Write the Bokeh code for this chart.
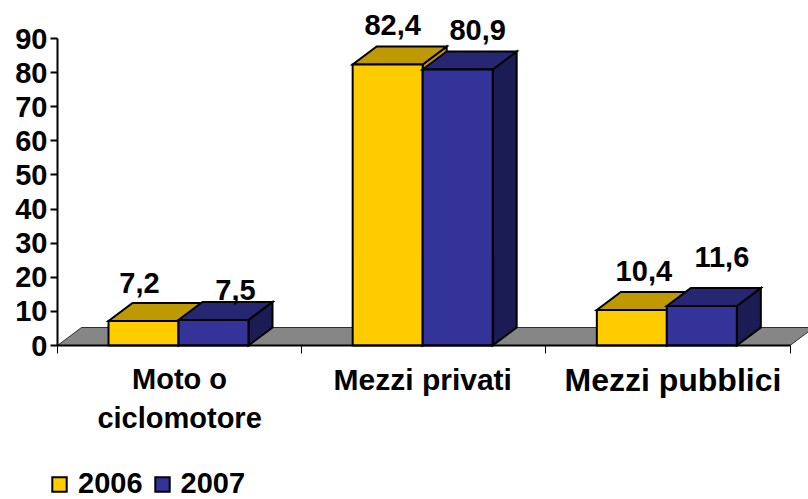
from bokeh.embed import file_html
from bokeh.resources import INLINE
from bokeh.plotting import figure
from bokeh.models import Range1d, LinearAxis, FixedTicker, Legend, LegendItem
from bokeh.core.properties import value

categories = ["Moto o\nciclomotore", "Mezzi privati", "Mezzi pubblici"]
series_names = ["2006", "2007"]
values_2006 = [7.2, 82.4, 10.4]
values_2007 = [7.5, 80.9, 11.6]
label_2006 = ["7,2", "82,4", "10,4"]
label_2007 = ["7,5", "80,9", "11,6"]
y_ticks = [0, 10, 20, 30, 40, 50, 60, 70, 80, 90]

FONT = "Liberation Sans"
FS = "29px"
W, H = 808, 499
X0_PX, Y0_PX = 57, 345          # origin inside the figure
UX, UY = 244.17, 3.411          # px per category / per value unit
DX, DY = 24 / UX, 18 / UY       # 3-D depth
BAR = 70 / UX
GAP = 51 / UX

p = figure(width=W, height=H, output_backend="svg", toolbar_location=None,
           x_range=Range1d(-X0_PX / UX, (W - X0_PX) / UX),
           y_range=Range1d(-(H - Y0_PX) / UY, Y0_PX / UY),
           min_border=0, outline_line_color=None, x_axis_type=None, y_axis_type=None)
p.grid.visible = False

# floor
p.patch([0, DX, 3 + DX, 3], [0, DY, DY, 0], fill_color="#868686", line_color="#303030", line_width=1)

def draw(vals, x_off, c_front, c_top, c_side):
    fx, fy, tx, ty, sx, sy = [], [], [], [], [], []
    for i, v in enumerate(vals):
        a = i + GAP + x_off
        b = a + BAR
        fx.append([a, b, b, a]); fy.append([0, 0, v, v])
        tx.append([a, b, b + DX, a + DX]); ty.append([v, v, v + DY, v + DY])
        sx.append([b, b + DX, b + DX, b]); sy.append([0, DY, v + DY, v])
    kw = dict(line_color="black", line_width=2, line_join="miter")
    p.patches(sx, sy, fill_color=c_side, **kw)
    p.patches(tx, ty, fill_color=c_top, **kw)
    return p.patches(fx, fy, fill_color=c_front, **kw)

r06 = draw(values_2006, 0, "#FFCC00", "#BF9900", "#BF9900")
r07 = draw(values_2007, BAR, "#333399", "#262673", "#1C1C55")

# axes
ya = LinearAxis(ticker=FixedTicker(ticks=y_ticks), fixed_location=0, bounds=(0, 90))
ya.major_label_text_font = FONT
ya.major_label_text_font_style = "bold"
ya.major_label_text_font_size = FS
ya.major_label_text_color = "black"
ya.axis_line_width = 2
ya.major_tick_line_width = 2
ya.major_tick_out = 7
ya.major_tick_in = 0
ya.minor_tick_line_color = None
ya.major_label_standoff = 3
p.add_layout(ya, "left")

xa = LinearAxis(ticker=FixedTicker(ticks=[0, 1, 2, 3]), fixed_location=0, bounds=(0, 3))
xa.major_label_text_color = None
xa.axis_line_width = 2
xa.major_tick_line_width = 1
xa.major_tick_out = 8
xa.major_tick_in = 0
xa.minor_tick_line_color = None
p.add_layout(xa, "below")

# data labels
txt = dict(text_font=value(FONT), text_font_style="bold", text_font_size=FS,
           text_color="black", text_align="center", text_baseline="middle")
lab_dx_06 = [-4, 5, 12]
lab_dy_06 = [38, 39, 39]
lab_dx_07 = [22, 20, 20]
lab_dy_07 = [30, 40, 49]
xs06 = [i + GAP + BAR / 2 for i in range(3)]
xs07 = [i + GAP + BAR * 1.5 for i in range(3)]
p.text(xs06, values_2006, text=label_2006, x_offset=lab_dx_06, y_offset=[-d for d in lab_dy_06], **txt)
p.text(xs07, values_2007, text=label_2007, x_offset=lab_dx_07, y_offset=[-d for d in lab_dy_07], **txt)

# category labels
cat_x = [i + 0.5 for i in range(3)]
cat_dx = [0, -1, 5]
cat_size = ["29px", "30px", "32px"]
p.text(cat_x, [0, 0, 0], text=categories, x_offset=cat_dx, y_offset=[17, 17, 16],
       text_font=value(FONT), text_font_style="bold", text_font_size=cat_size, text_color="black",
       text_align="center", text_baseline="top", text_line_height=1.24)

# legend
leg = Legend(items=[LegendItem(label=series_names[0], renderers=[r06]),
                    LegendItem(label=series_names[1], renderers=[r07])],
             orientation="horizontal", location=(50, -1),
             background_fill_alpha=0, border_line_color=None,
             label_text_font=FONT, label_text_font_style="bold", label_text_font_size=FS,
             label_text_color="black", glyph_width=18, glyph_height=18,
             spacing=10, padding=0, margin=0, label_standoff=10)
p.add_layout(leg, "center")

open("out.html", "w").write(file_html(p, INLINE))
